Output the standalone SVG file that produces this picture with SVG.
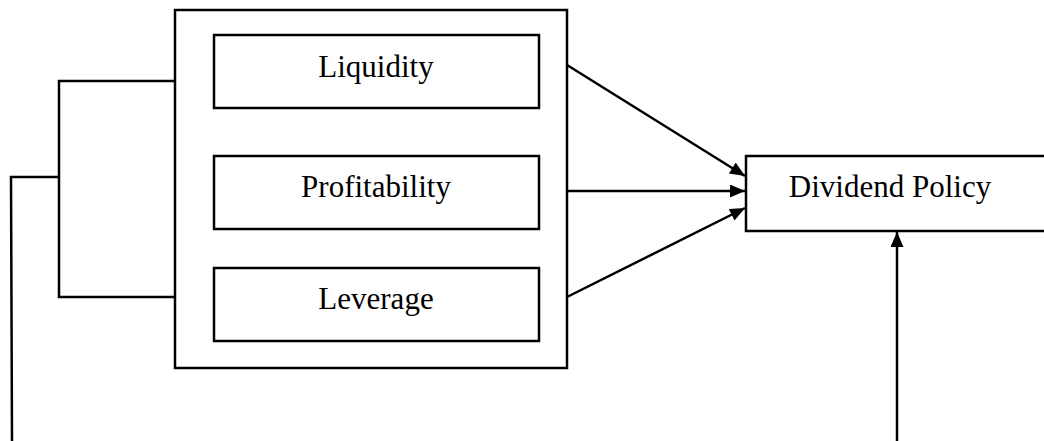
<svg xmlns="http://www.w3.org/2000/svg" width="1044" height="441" viewBox="0 0 1044 441">
<style>
.box{fill:#fff;stroke:#000;stroke-width:2.5}
.ln{fill:none;stroke:#000;stroke-width:2.5}
.t{font-family:"Liberation Serif","Times New Roman",serif;font-size:31px;fill:#000;text-anchor:middle}
</style>
<defs>
<marker id="ah" viewBox="0 0 15 13" refX="15" refY="6.5" markerWidth="15" markerHeight="13" markerUnits="userSpaceOnUse" orient="auto">
<path d="M0,0 L15,6.5 L0,13 z" fill="#000"/>
</marker>
</defs>
<g id="outer"><rect class="box" x="175" y="10" width="392" height="358"/></g>
<g id="liquidity"><rect class="box" x="214" y="35" width="325" height="73"/><text class="t" x="376" y="77">Liquidity</text></g>
<g id="profitability"><rect class="box" x="214" y="156" width="325" height="73"/><text class="t" x="376" y="197">Profitability</text></g>
<g id="leverage"><rect class="box" x="214" y="268" width="325" height="73"/><text class="t" x="376" y="309">Leverage</text></g>
<g id="dividend"><rect class="box" x="746" y="156" width="310" height="75"/><text class="t" x="890" y="197">Dividend Policy</text></g>
<g id="connectors">
<polyline class="ln" points="175,81 59,81 59,297 175,297"/>
<polyline class="ln" points="59,177 11,177 12,441"/>
<line class="ln" x1="567" y1="65" x2="745" y2="176" marker-end="url(#ah)"/>
<line class="ln" x1="567" y1="191" x2="745" y2="191" marker-end="url(#ah)"/>
<line class="ln" x1="567" y1="297" x2="745" y2="208" marker-end="url(#ah)"/>
<line class="ln" x1="897" y1="441" x2="897" y2="232" marker-end="url(#ah)"/>
</g>
</svg>
